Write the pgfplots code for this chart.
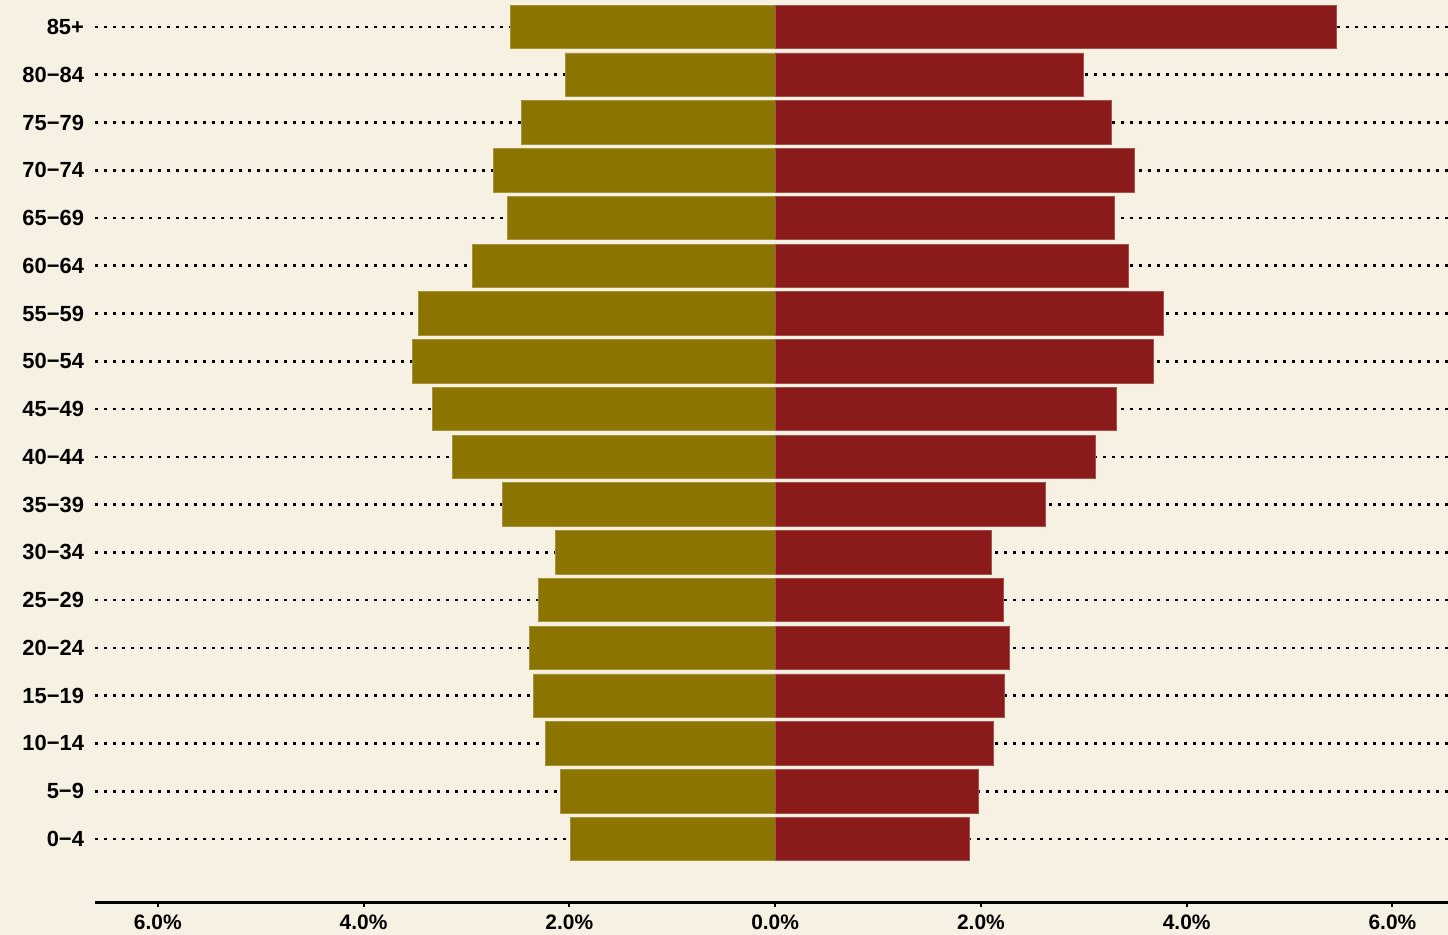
\documentclass[border=0pt]{standalone}
\usepackage{pgfplots}
\pgfplotsset{compat=1.18}
\usepackage{fontspec}
\setmainfont{Liberation Sans}
\definecolor{bg}{HTML}{F7F1E4}
\definecolor{olivebar}{HTML}{8B7500}
\definecolor{redbar}{HTML}{8B1A1A}
\begin{document}
\begin{tikzpicture}[x=1bp,y=1bp]
\fill[bg] (-47.5,-16) rectangle (676.5,451.5);
\begin{axis}[
  at={(0,0)}, anchor=south west,
  scale only axis, width=676.5bp, height=451.5bp,
  xmin=-6.61, xmax=6.54, ymin=-1.34, ymax=17.565,
  axis x line*=bottom, axis y line*=left,
  x axis line style={-, line width=1.5bp, black},
  y axis line style={draw=none},
  xtick={-6,-4,-2,0,2,4,6},
  xticklabels={6.0\%,4.0\%,2.0\%,0.0\%,2.0\%,4.0\%,6.0\%},
  ytick={0,...,17},
  yticklabels={0−4,5−9,10−14,15−19,20−24,25−29,30−34,35−39,40−44,45−49,50−54,55−59,60−64,65−69,70−74,75−79,80−84,85+},
  tick align=outside,
  major tick length=2bp,
  xtick style={black, line width=1bp},
  ytick style={draw=none},
  xticklabel style={font=\bfseries\fontsize{10.5}{12}\selectfont, text=black, yshift=-0.5bp},
  yticklabel style={font=\bfseries\fontsize{11}{13}\selectfont, text=black, xshift=0bp},
  ymajorgrids,
  major grid style={black, line width=1.3bp, dash pattern=on 1.3bp off 3.2bp},
  xbar, bar width=0.91, bar shift=0,
]
\addplot[fill=olivebar, draw=olivebar!75!bg, line width=0.4bp] coordinates {
(-1.989,0) (-2.083,1) (-2.232,2) (-2.345,3) (-2.384,4) (-2.303,5)
(-2.135,6) (-2.653,7) (-3.136,8) (-3.333,9) (-3.521,10) (-3.466,11)
(-2.942,12) (-2.601,13) (-2.741,14) (-2.465,15) (-2.041,16) (-2.572,17)};
\addplot[fill=redbar, draw=redbar!75!bg, line width=0.4bp] coordinates {
(1.892,0) (1.980,1) (2.119,2) (2.225,3) (2.274,4) (2.219,5)
(2.106,6) (2.624,7) (3.117,8) (3.321,9) (3.680,10) (3.771,11)
(3.437,12) (3.301,13) (3.496,14) (3.268,15) (3.000,16) (5.459,17)};
\end{axis}
\pgfresetboundingbox
\useasboundingbox (-47.5,-16) rectangle (676.5,451.5);
\end{tikzpicture}
\end{document}
